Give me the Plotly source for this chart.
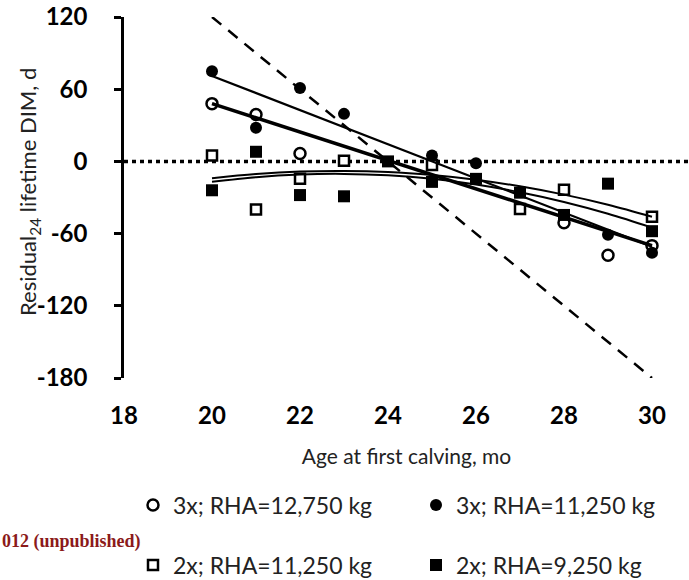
import plotly.graph_objects as go

# ---- data ----
ages = [20, 21, 22, 23, 24, 25, 26, 27, 28, 29, 30]
oc_3x_12750 = [48, 39, 6.5, None, None, None, None, None, -51, -78, -70]
fc_3x_11250 = [75, 28, 61, 39.5, None, 5, -1.5, None, None, -61, -76]
os_2x_11250 = [5, -40, -14.5, 0.5, None, -3, None, -39.5, -23.5, None, -46]
fs_2x_9250 = [-24, 8, -28, -29, 0, -17, -14.5, -26, -44.5, -18.5, -58]

trend_x = [20, 30]
oc_trend = [48, -70]
fc_trend = [71, -71]
ref_line = [120, -180]
os_trend = [-14, -10.5, -8.4, -7.9, -8.8, -11.3, -15.2, -20.7, -27.6, -36, -46]
fs_trend = [-17, -13.1, -10.9, -10.4, -11.6, -14.5, -19.2, -25.6, -33.7, -43.5, -55]

names = ["3x; RHA=12,750 kg", "3x; RHA=11,250 kg", "2x; RHA=11,250 kg", "2x; RHA=9,250 kg"]
x_ticks = [18, 20, 22, 24, 26, 28, 30]
y_ticks = [-180, -120, -60, 0, 60, 120]
y_tick_text = ["-180", "-120", "-60", "0", "60", "120"]

FONT = "Lato"
fig = go.Figure()

# markers
fig.add_trace(go.Scatter(x=ages, y=oc_3x_12750, mode="markers", name=names[0], legend="legend",
                         marker=dict(symbol="circle", size=11, color="white",
                                     line=dict(color="black", width=2.5))))
fig.add_trace(go.Scatter(x=ages, y=fc_3x_11250, mode="markers", name=names[1], legend="legend2",
                         marker=dict(symbol="circle", size=12, color="black",
                                     line=dict(color="black", width=0))))
fig.add_trace(go.Scatter(x=ages, y=os_2x_11250, mode="markers", name=names[2], legend="legend3",
                         marker=dict(symbol="square", size=10, color="white",
                                     line=dict(color="black", width=2.5))))
fig.add_trace(go.Scatter(x=ages, y=fs_2x_9250, mode="markers", name=names[3], legend="legend4",
                         marker=dict(symbol="square", size=12, color="black",
                                     line=dict(color="black", width=0))))

# trend lines
fig.add_trace(go.Scatter(x=ages, y=os_trend, mode="lines", line=dict(color="black", width=2, shape="spline"),
                         showlegend=False, hoverinfo="skip"))
fig.add_trace(go.Scatter(x=ages, y=fs_trend, mode="lines", line=dict(color="black", width=2, shape="spline"),
                         showlegend=False, hoverinfo="skip"))
fig.add_trace(go.Scatter(x=trend_x, y=fc_trend, mode="lines", line=dict(color="black", width=2.2),
                         showlegend=False, hoverinfo="skip"))
fig.add_trace(go.Scatter(x=trend_x, y=oc_trend, mode="lines", line=dict(color="black", width=3.5),
                         showlegend=False, hoverinfo="skip"))
fig.add_trace(go.Scatter(x=trend_x, y=ref_line, mode="lines",
                         line=dict(color="black", width=2.5, dash="12px,9px"),
                         showlegend=False, hoverinfo="skip"))

# dotted zero line
fig.add_shape(type="line", xref="paper", yref="y", x0=0, x1=1, y0=0, y1=0,
              line=dict(color="black", width=3.5, dash="4px,4px"), layer="below")

fig.add_annotation(text="012 (unpublished)", xref="paper", yref="paper",
                   x=-124 / 565, y=(378 - 541) / 361, xanchor="left", yanchor="middle",
                   showarrow=False,
                   font=dict(family="Liberation Serif", size=18, color="#8B1A1A", weight="bold"))

# y axis title as rotated annotation
fig.add_annotation(text="Residual<sub>24</sub> lifetime DIM, d", xref="paper", yref="paper",
                   x=(29 - 124) / 565, y=(378 - 192) / 361, xanchor="center", yanchor="middle",
                   textangle=-90, showarrow=False,
                   font=dict(family=FONT, size=22, color="#222"))

leg_common = dict(orientation="h", xanchor="left", yanchor="middle", xref="container", yref="container",
                  bgcolor="rgba(0,0,0,0)", font=dict(family=FONT, size=23, color="#222"), itemwidth=30)
col1, col2 = 133 / 689, 416 / 689
row1, row2 = 1 - 505 / 580, 1 - 565 / 580

fig.update_layout(
    width=689, height=580,
    margin=dict(l=124, r=0, t=17, b=202, autoexpand=False),
    paper_bgcolor="white", plot_bgcolor="white",
    font=dict(family=FONT, color="black"),
    legend=dict(**leg_common, x=col1, y=row1),
    legend2=dict(**leg_common, x=col2, y=row1),
    legend3=dict(**leg_common, x=col1, y=row2),
    legend4=dict(**leg_common, x=col2, y=row2),
    xaxis=dict(range=[18, 18 + 565 / 44], tickvals=x_ticks, showline=False, showgrid=False,
               zeroline=False, ticks="", ticklabelstandoff=21,
               tickfont=dict(family=FONT, size=24, color="black", weight="bold"),
               title=dict(text="Age at first calving, mo", standoff=21,
                          font=dict(family=FONT, size=21, color="#222"))),
    yaxis=dict(range=[-180, 120], tickvals=y_ticks, ticktext=y_tick_text, showline=True,
               linewidth=2.5, linecolor="black",
               showgrid=False, zeroline=False, ticks="outside", ticklen=7, tickwidth=2.5,
               tickcolor="black", ticklabelstandoff=22,
               tickfont=dict(family=FONT, size=24, color="black", weight="bold")),
)

fig.write_html("out.html")
